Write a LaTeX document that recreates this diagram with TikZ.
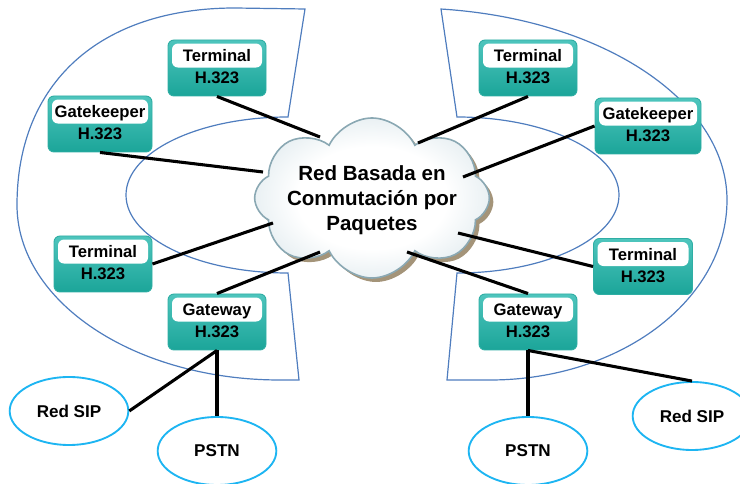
\documentclass[tikz,border=0pt]{standalone}
\usepackage{fontspec}
\setmainfont{Liberation Sans}
\usetikzlibrary{shapes.geometric,shapes.symbols,calc}
\definecolor{zonec}{HTML}{4F7DBE}
\definecolor{tealtop}{HTML}{4EC5BD}
\definecolor{tealbot}{HTML}{1BA599}
\definecolor{tealdr}{HTML}{2FAEA4}
\definecolor{sipc}{HTML}{1DB5F2}
\definecolor{cloudc}{HTML}{8EADB9}
\definecolor{cloudl}{HTML}{E0EAEE}
\definecolor{cloudm}{HTML}{B0C8D0}
\definecolor{cloudd}{HTML}{8AA8B3}
\definecolor{shadowc}{HTML}{A49479}
\pgfdeclareradialshading{cloudsh}{\pgfpointorigin}{color(0bp)=(white); color(16bp)=(white); color(29bp)=(cloudl); color(39bp)=(cloudm); color(47bp)=(cloudc); color(50bp)=(cloudc)}
\newcommand{\hbx}[5]{%
  \node[hbox, minimum width=#4*0.75pt] (#1) at (#2,#3) {};
  \node[hlab, minimum width=(#4-8)*0.75pt] (#1a) at ([yshift=-12pt]#1.north) {#5};
  \node[htxt] (#1b) at ([yshift=-28.5pt]#1.north) {H.323};}
\begin{document}
\begin{tikzpicture}[x=0.75pt,y=-0.75pt,
  zone/.style={draw=zonec, line width=0.9pt},
  conn/.style={line width=2.3pt, black},
  hbox/.style={rectangle, rounded corners=4.5pt, top color=tealtop, bottom color=tealbot, draw=tealdr, line width=0.7pt, minimum height=42pt, inner sep=0pt},
  hlab/.style={rectangle, rounded corners=4.5pt, fill=white, minimum height=18pt, inner sep=0pt, font=\bfseries\fontsize{12.5}{15}\selectfont, text height=9pt, text depth=0pt},
  htxt/.style={inner sep=0pt, font=\bfseries\fontsize{12.5}{15}\selectfont, text height=9pt, text depth=0pt},
  ell/.style={ellipse, draw=sipc, line width=1.4pt, fill=white, minimum width=89pt, minimum height=51pt, inner sep=0pt, font=\bfseries\fontsize{12.8}{15}\selectfont},
  cloudbase/.style={cloud, cloud puffs=8, cloud puff arc=130, cloud ignores aspect, minimum width=176pt, minimum height=120pt, inner sep=0pt}]
\useasboundingbox (0,0) rectangle (740,484);
% zones
\draw[zone] (305,9) -- (288,117) arc[start angle=-90, end angle=-270, x radius=162, y radius=78] -- (299,380)
  -- (280,380) .. controls (135,380) and (17,302) .. (17,205) .. controls (17,83) and (100,8) .. (235,8) -- cycle;
\draw[zone] (441,9) -- (457,117) arc[start angle=-90, end angle=90, x radius=162, y radius=78] -- (447,380)
  -- (490,380) arc[start angle=90, end angle=0, x radius=237, y radius=180]
  arc[start angle=0, end angle=-84, x radius=319, y radius=192] -- cycle;
% cloud
\node[cloudbase, fill=shadowc] (cloudshadow) at (376,202) {};
\node[cloudbase, shading=cloudsh, draw=cloudd, line width=1.2pt] (cloud) at (372,198) {};
\node[font=\bfseries\fontsize{15.4}{18.9}\selectfont, align=center, inner sep=0pt] (ctext) at (372,200) {Red Basada en\\Conmutación por\\Paquetes};
% boxes
\hbx{lt1}{217}{68}{98}{Terminal}
\hbx{lgk}{100}{124}{104}{Gatekeeper}
\hbx{lt2}{103}{264}{98}{Terminal}
\hbx{lgw}{217}{322}{98}{Gateway}
\hbx{rt1}{528}{68}{98}{Terminal}
\hbx{rgk}{648}{126}{106}{Gatekeeper}
\hbx{rt2}{643}{266.5}{99}{Terminal}
\hbx{rgw}{528}{322}{98}{Gateway}
% ellipses
\node[ell] (lsip) at (69,411) {Red SIP};
\node[ell] (lpstn) at (217,451) {PSTN};
\node[ell] (rpstn) at (528,451) {PSTN};
\node[ell] (rsip) at (692,416) {Red SIP};
% cloud end points
\coordinate (c1) at (320,137);
\coordinate (c2) at (263,172);
\coordinate (c3) at (273,223);
\coordinate (c4) at (320,252);
\coordinate (c5) at (418,143);
\coordinate (c6) at (463,177);
\coordinate (c7) at (458,233);
\coordinate (c8) at (407,252);
% connectors
\draw[conn] (lt1.south) -- (c1);
\draw[conn] (lgk.south) -- (c2);
\draw[conn] (lt2.east) -- (c3);
\draw[conn] (lgw.north) -- (c4);
\draw[conn] (rt1.south) -- (c5);
\draw[conn] (rgk.west) -- (c6);
\draw[conn] (rt2.west) -- (c7);
\draw[conn] (rgw.north) -- (c8);
\draw[conn] (lgw.south) -- (lsip.east);
\draw[conn] (lgw.south) -- (lpstn.north);
\draw[conn] (rgw.south) -- (rpstn.north);
\draw[conn] (rgw.south) -- (rsip.north);
\end{tikzpicture}
\end{document}
